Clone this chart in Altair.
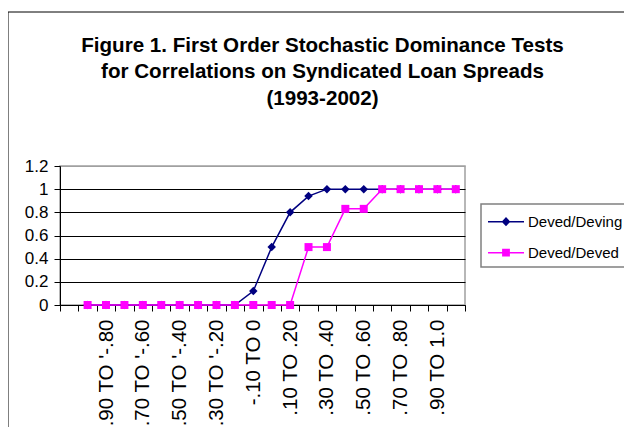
import altair as alt
import pandas as pd

# ---- data ----
categories = [" ", "-1.0 TO '-.90", "-.90 TO '-.80", "-.80 TO '-.70", "-.70 TO '-.60",
              "-.60 TO '-.50", "-.50 TO '-.40", "-.40 TO '-.30", "-.30 TO '-.20",
              "-.20 TO '-.10", "-.10 TO 0", "0 TO .10", ".10 TO .20", ".20 TO .30",
              ".30 TO .40", ".40 TO .50", ".50 TO .60", ".60 TO .70", ".70 TO .80",
              ".80 TO .90", ".90 TO 1.0", "1.0"]
shown_labels = categories[0::2]
data_categories = categories[1:]
deving = [0, 0, 0, 0, 0, 0, 0, 0, 0, 0.12, 0.5, 0.8, 0.94, 1, 1, 1, 1, 1, 1, 1, 1]
deved = [0, 0, 0, 0, 0, 0, 0, 0, 0, 0, 0, 0, 0.5, 0.5, 0.83, 0.83, 1, 1, 1, 1, 1]
series_names = ["Deved/Deving", "Deved/Deved"]
series_colors = ["#000080", "#FF00FF"]
title_lines = ["Figure 1. First Order Stochastic Dominance Tests",
               "for Correlations on Syndicated Loan Spreads",
               "(1993-2002)"]

rows = []
for c, v in zip(data_categories, deving):
    rows.append({"cat": c, "series": series_names[0], "value": v})
for c, v in zip(data_categories, deved):
    rows.append({"cat": c, "series": series_names[1], "value": v})
df = pd.DataFrame(rows)

FONT = "Arial, Liberation Sans, sans-serif"
label_test = " || ".join([f"datum.value == \"{s}\"" for s in shown_labels])

x_enc = alt.X("cat:O",
              scale=alt.Scale(type="band", domain=categories, paddingInner=0, paddingOuter=0),
              bandPosition=0.5,
              axis=alt.Axis(title=None, labelAngle=-90, labelFontSize=20.5, labelFont=FONT,
                            labelColor="black", labelPadding=8, tickSize=6, tickColor="black",
                            domainColor="black", tickBand="extent", labelOverlap=False,
                            labelExpr=f"({label_test}) ? datum.value : ''", grid=False))
y_enc = alt.Y("value:Q",
              scale=alt.Scale(domain=[0, 1.2], nice=False, zero=True),
              axis=alt.Axis(title=None, values=[0, 0.2, 0.4, 0.6, 0.8, 1.0, 1.2], format="~g",
                            labelFontSize=17, labelFont=FONT, labelColor="black",
                            labelPadding=6, tickSize=6, tickColor="black", domainColor="black",
                            grid=True,
                            gridColor={"condition": {"test": "datum.value > 1.1", "value": "#a0a0a0"},
                                       "value": "black"},
                            gridWidth=1))
color_enc = alt.Color("series:N", scale=alt.Scale(domain=series_names, range=series_colors), legend=None)

base = alt.Chart(df).encode(x=x_enc, y=y_enc)

lines = base.mark_line(strokeWidth=1.5).encode(color=color_enc)
pts_deving = base.transform_filter(alt.datum.series == series_names[0]).mark_point(
    filled=True, opacity=1, size=72, shape="diamond", color=series_colors[0])
pts_deved = base.transform_filter(alt.datum.series == series_names[1]).mark_point(
    filled=True, opacity=1, size=64, shape="square", color=series_colors[1])

# legend glyphs: a thin filled bar (the line) plus the marker
legend_shapes = ["M-1.2,-0.045H1.2V0.045H-1.2ZM-0.29,0L0,-0.31L0.29,0L0,0.31Z",
                 "M-1.2,-0.045H1.2V0.045H-1.2ZM-0.26,-0.26H0.26V0.26H-0.26Z"]
legend_y = [39.7, 70.7]


def legend_entry(i):
    return base.transform_filter("false").mark_point(
        filled=True, fill=series_colors[i], stroke=series_colors[i], strokeWidth=1.5, opacity=1
    ).encode(
        shape=alt.Shape("series:N",
                        scale=alt.Scale(domain=[series_names[i]], range=[legend_shapes[i]]),
                        legend=alt.Legend(title=None, orient="none", legendX=430, legendY=legend_y[i],
                                          padding=0, symbolSize=900, symbolStrokeWidth=1.5,
                                          symbolFillColor=series_colors[i],
                                          symbolStrokeColor=series_colors[i], symbolOpacity=1,
                                          labelFontSize=15, labelFont=FONT, labelColor="black",
                                          labelOffset=6, labelLimit=200))
    )


legend_box = alt.Chart(pd.DataFrame({"a": [0]})).mark_rect(
    fill="white", stroke="#808080", strokeWidth=1.5).encode(
    x=alt.value(421), x2=alt.value(566), y=alt.value(38), y2=alt.value(101))

frame = alt.Chart(pd.DataFrame({"a": [0]})).mark_rect(fill=None, stroke="black", strokeWidth=1).encode(
    x=alt.value(-52), x2=alt.value(700), y=alt.value(-154), y2=alt.value(400))

chart = alt.layer(frame, lines, pts_deving, pts_deved, legend_box,
                  legend_entry(0), legend_entry(1)).resolve_scale(shape="independent").properties(
    width=405, height=139,
    autosize=alt.AutoSizeParams(type="none"),
    padding={"left": 52, "top": 158, "right": 159, "bottom": 122},
    title=alt.TitleParams(text=title_lines, fontSize=20.6, font=FONT, fontWeight="bold",
                          color="black", lineHeight=26.5, anchor="middle", frame="group",
                          dx=60, offset=-98),
).configure_view(stroke="#a0a0a0", strokeWidth=1.5)

chart.save("out.html", embed_options={"renderer": "svg", "actions": False})
